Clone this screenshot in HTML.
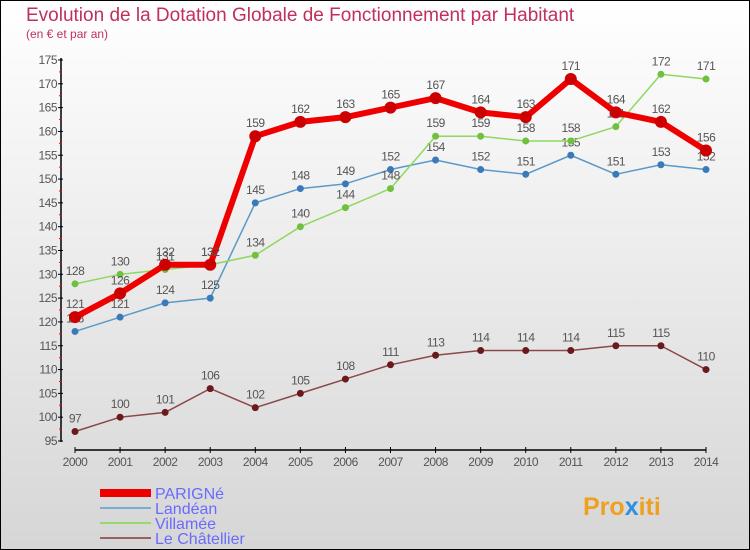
<!DOCTYPE html>
<html><head><meta charset="utf-8"><style>
body{margin:0;width:750px;height:550px;overflow:hidden;font-family:"Liberation Sans",sans-serif}
svg{display:block}
</style></head><body>
<svg id="c" width="750" height="550">
<defs><linearGradient id="bg" x1="0" y1="0" x2="0" y2="1"><stop offset="0" stop-color="#ffffff"/><stop offset="1" stop-color="#d6d6d6"/></linearGradient></defs>
<rect x="0.5" y="0.5" width="749" height="549" fill="url(#bg)" stroke="#000"/>
<text x="26" y="21" font-size="19" fill="#c0305a">Evolution de la Dotation Globale de Fonctionnement par Habitant</text>
<text x="26" y="38" font-size="12" fill="#c0305a">(en € et par an)</text>
<g id="axes"></g><g id="series"></g><g id="legend"></g>
<text x="583" y="515" font-size="25" font-weight="bold" fill="#f0a020">Pro<tspan fill="#3090e0">x</tspan>iti</text>
</svg>
<script>
const years=[2000,2001,2002,2003,2004,2005,2006,2007,2008,2009,2010,2011,2012,2013,2014];
const yTicks=[95,100,105,110,115,120,125,130,135,140,145,150,155,160,165,170,175];
const seriesNames=["PARIGNé","Landéan","Villamée","Le Châtellier"];
const parigne=[121,126,132,132,159,162,163,165,167,164,163,171,164,162,156];
const landean=[118,121,124,125,145,148,149,152,154,152,151,155,151,153,152];
const villamee=[128,130,131,132,134,140,144,148,159,159,158,158,161,172,171];
const chatellier=[97,100,101,106,102,105,108,111,113,114,114,114,115,115,110];
const NS="http://www.w3.org/2000/svg";
const X=i=>75+i*(706-75)/(years.length-1);
const Y=v=>441-(v-95)*(441-60)/80;
function mk(t,a,p){const e=document.createElementNS(NS,t);for(const k in a)e.setAttribute(k,a[k]);p.appendChild(e);return e;}
const ax=document.getElementById('axes');
let e=mk('line',{x1:61,y1:58,x2:61,y2:442,stroke:'#000','stroke-width':1.5},ax);


e=mk('line',{x1:75,y1:450,x2:706,y2:450,stroke:'#000','stroke-width':1.5},ax);


yTicks.forEach(v=>{const y=Y(v);
 mk('line',{x1:58,y1:y,x2:63,y2:y,stroke:'#000'},ax);
 if(v<175)mk('line',{x1:59,y1:Y(v+2.5),x2:62,y2:Y(v+2.5),stroke:'#f00'},ax);
 const t=mk('text',{x:57,y:y+4,'font-size':12,fill:'#555','text-anchor':'end','letter-spacing':-0.5},ax);t.textContent=v;
 
 
});
years.forEach((yr,i)=>{const x=X(i);
 mk('line',{x1:x,y1:447,x2:x,y2:453,stroke:'#000'},ax);
 const t=mk('text',{x:x,y:466,'font-size':12,fill:'#555','text-anchor':'middle','letter-spacing':-0.5},ax);t.textContent=yr;
 
 
});
const cfg=[[landean,'#5a9ac8','#3a7ab8',1.5,3.5,'series-landean'],[villamee,'#90d860','#70c040',1.5,3.5,'series-villamee'],[chatellier,'#8a4848','#6a1a1a',1.5,3.5,'series-le-chatellier'],[parigne,'#ee0000','#cc0000',6,6,'series-parigne']];
const sg=document.getElementById('series');
cfg.forEach(([d,lc,pc,w,r,nm])=>{
 const g=mk('g',{},sg);
 
 
 mk('polyline',{points:d.map((v,i)=>X(i)+','+Y(v)).join(' '),fill:'none',stroke:lc,'stroke-width':w,'stroke-linejoin':'round'},g);
 d.forEach((v,i)=>{const p=mk('circle',{cx:X(i),cy:Y(v),r:r,fill:pc},g);
  
  
  const t=mk('text',{x:X(i),y:Y(v)-9,'font-size':12,fill:'#555','text-anchor':'middle','letter-spacing':-0.5},g);t.textContent=v;
  
  
 });
});
const lg=document.getElementById('legend');
const lcol=['#ee0000','#7aaed0','#98d870','#9a6060'],lw=[8,2,2,2];
seriesNames.forEach((n,i)=>{const y=493+i*15;
 const g=mk('g',{},lg);
 
 
 mk('line',{x1:100,y1:y,x2:151,y2:y,stroke:lcol[i],'stroke-width':lw[i]},g);
 const t=mk('text',{x:155,y:y+6,'font-size':16,fill:'#6a6aff'},g);t.textContent=n;
});
</script>
</body></html>
